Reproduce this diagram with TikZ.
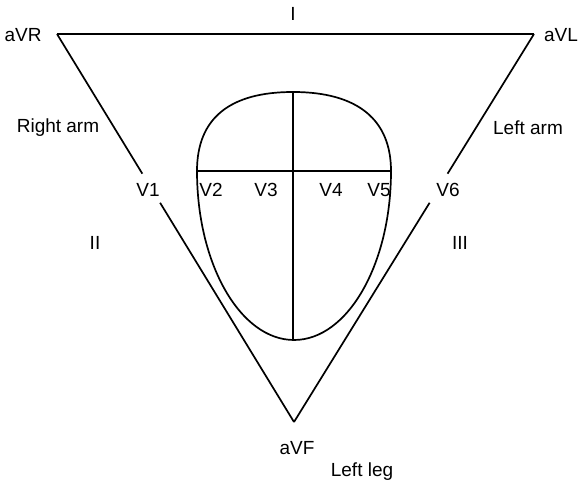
\documentclass[tikz,border=0pt]{standalone}
\usepackage{fontspec}
\setmainfont{Liberation Sans}
\usetikzlibrary{calc}

\tikzset{
    lead/.style={font=\fontsize{19}{22}\selectfont, inner sep=1pt},
    wire/.style={line width=1.7pt, black}
}

\begin{document}
\begin{tikzpicture}[x=1pt, y=1pt]
    \useasboundingbox (0,0) rectangle (580,486);
    % Einthoven triangle corners
    \coordinate (ra) at (57,452);
    \coordinate (la) at (534,452);
    \coordinate (ll) at (294,64);
    \draw[wire] (ra) -- (la);
    \draw[wire] (ra) -- ($(ra)!0.36!(ll)$) coordinate (ra1);
    \draw[wire] ($(ra)!0.435!(ll)$) coordinate (ra2) -- (ll);
    \draw[wire] (la) -- ($(la)!0.36!(ll)$) coordinate (la1);
    \draw[wire] ($(la)!0.435!(ll)$) coordinate (la2) -- (ll);
    % Heart outline
    \coordinate (hl) at (197,315);
    \coordinate (hr) at (391,315);
    \coordinate (ht) at (293,394);
    \coordinate (hb) at (293,146);
    \draw[wire] (hl) .. controls (197,368) and (230,394) .. (ht)
        .. controls (358,394) and (391,366) .. (hr)
        arc[start angle=0, end angle=-180, x radius=97, y radius=169];
    \draw[wire] (hl) -- (hr);
    \draw[wire] (ht) -- (hb);
    % Limb leads and labels
    \node[lead] (I) at (293,472) {I};
    \node[lead] (aVR) at (23,451) {aVR};
    \node[lead] (aVL) at (561,451) {aVL};
    \node[lead] (rarm) at (58,358) {Right arm};
    \node[lead] (larm) at (528,358) {Left arm};
    \node[lead] (II) at (95,243) {II};
    \node[lead] (III) at (460,243) {III};
    \node[lead] (aVF) at (297,38) {aVF};
    \node[lead] (lleg) at (362,14) {Left leg};
    % Chest leads
    \node[lead] (V1) at (148,296) {V1};
    \node[lead] (V2) at (211,296) {V2};
    \node[lead] (V3) at (266,296) {V3};
    \node[lead] (V4) at (331,296) {V4};
    \node[lead] (V5) at (379,296) {V5};
    \node[lead] (V6) at (448,296) {V6};
\end{tikzpicture}
\end{document}
